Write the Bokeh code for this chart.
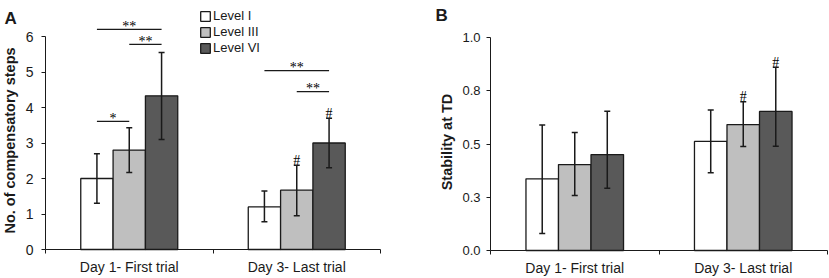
import math
from bokeh.plotting import figure
from bokeh.models import (ColumnDataSource, FixedTicker, Legend, LegendItem, Label,
                          Whisker, TeeHead, Range1d, LinearAxis)
from bokeh.layouts import row
from bokeh.embed import file_html
from bokeh.resources import INLINE
from bokeh.core.properties import value

# ---------------- data ----------------
categories = ["Day 1- First trial", "Day 3- Last trial"]
levels = ["Level I", "Level III", "Level VI"]

# Panel A: No. of compensatory steps  (rows = levels, cols = categories)
steps_mean = [[2.0, 1.2], [2.8, 1.67], [4.33, 3.0]]
steps_lower = [[1.3, 0.78], [2.17, 0.95], [3.1, 2.3]]
steps_upper = [[2.7, 1.65], [3.43, 2.37], [5.55, 3.7]]

# significance brackets in panel A: category, from level, to level, height, text
steps_sig_cat = [0, 0, 0, 1, 1]
steps_sig_from = [0, 0, 1, 0, 1]
steps_sig_to = [1, 2, 2, 2, 2]
steps_sig_y = [3.61, 6.2, 5.78, 5.04, 4.45]
steps_sig_text = ["*", "**", "**", "**", "**"]

# '#' marks (category, level) placed over the upper error bar
steps_hash_cat = [1, 1]
steps_hash_level = [1, 2]

# Panel B: Stability at TD
stab_mean = [[0.337, 0.513], [0.404, 0.592], [0.451, 0.654]]
stab_lower = [[0.08, 0.365], [0.259, 0.489], [0.293, 0.49]]
stab_upper = [[0.59, 0.661], [0.555, 0.699], [0.655, 0.862]]
stab_hash_cat = [1, 1]
stab_hash_level = [1, 2]

steps_ticks = [0, 1, 2, 3, 4, 5, 6]
stab_ticks = [0, 0.25, 0.5, 0.75, 1.0]
stab_tick_labels = ["0.0", "0.3", "0.5", "0.8", "1.0"]

# ---------------- style ----------------
colors = ["#ffffff", "#bfbfbf", "#595959"]
INK = "#1a1a1a"
SANS = "Liberation Sans"
SERIF = "Liberation Serif"
BAR_W = 0.193
OFF = 0.193
H = 278


def xpos(cat, lvl):
    return cat + 0.5 + (lvl - 1) * OFF


class Panel:
    """A figure whose frame fills the canvas; axes sit at fixed data locations."""

    def __init__(self, width, ax_left, ax_right, ax_bottom, px_per_y, ymax, ticks,
                 ytick_size, ytick_standoff):
        self.ax_left, self.ax_bottom = ax_left, ax_bottom
        self.px_x = (ax_right - ax_left) / 2.0
        self.px_y = px_per_y
        xr = Range1d(-ax_left / self.px_x, (width - ax_left) / self.px_x)
        yr = Range1d(-(H - ax_bottom) / px_per_y, ax_bottom / px_per_y)
        p = figure(width=width, height=H, output_backend="svg", toolbar_location=None,
                   x_range=xr, y_range=yr, x_axis_location=None, y_axis_location=None,
                   min_border=0)
        p.outline_line_color = None
        for g in p.grid:
            g.visible = False
        p.background_fill_color = "white"
        p.border_fill_color = "white"

        xa = LinearAxis(fixed_location=0, bounds=(0, 2),
                        ticker=FixedTicker(ticks=[0.5, 1.5], minor_ticks=[0, 1, 2]))
        xa.major_label_overrides = {0.5: categories[0], 1.5: categories[1]}
        xa.major_tick_out = 0
        xa.major_tick_in = 0
        xa.minor_tick_out = 4
        xa.minor_tick_in = 0
        xa.minor_tick_line_color = INK
        xa.axis_line_color = INK
        xa.major_label_text_font = SANS
        xa.major_label_text_font_size = "14px"
        xa.major_label_text_color = INK
        xa.major_label_standoff = 5
        p.add_layout(xa, "below")

        ya = LinearAxis(fixed_location=0, bounds=(0, ymax), ticker=FixedTicker(ticks=ticks))
        ya.axis_line_color = INK
        ya.major_tick_out = 4
        ya.major_tick_in = 0
        ya.major_tick_line_color = INK
        ya.minor_tick_line_color = None
        ya.major_label_text_font = SANS
        ya.major_label_text_font_size = ytick_size
        ya.major_label_text_color = INK
        ya.major_label_standoff = ytick_standoff
        p.add_layout(ya, "left")
        self.p, self.ya = p, ya

    def dx(self, px):
        return (px - self.ax_left) / self.px_x

    def dy(self, py):
        return (self.ax_bottom - py) / self.px_y

    def side_labels(self, letter, title, letter_px, letter_py, title_px, title_py):
        self.p.add_layout(Label(x=self.dx(letter_px), y=self.dy(letter_py), text=letter,
                                text_font=SANS, text_font_size="17px",
                                text_font_style="bold", text_color=INK,
                                text_baseline="alphabetic", text_align="left"))
        self.p.add_layout(Label(x=self.dx(title_px), y=self.dy(title_py), text=title,
                                angle=math.pi / 2, text_font=SANS, text_font_size="14.5px",
                                text_font_style="bold", text_color=INK,
                                text_baseline="middle", text_align="center"))


def draw_bars(p, mean, lower, upper):
    rends = []
    for lvl in range(3):
        src = ColumnDataSource(dict(
            x=[xpos(c, lvl) for c in range(2)],
            top=mean[lvl], lower=lower[lvl], upper=upper[lvl]))
        r = p.vbar(x="x", top="top", bottom=0, width=BAR_W, source=src,
                   fill_color=colors[lvl], line_color=INK, line_width=1.3)
        rends.append(r)
        w = Whisker(source=src, base="x", lower="lower", upper="upper",
                    dimension="height", line_color=INK, line_width=1.5,
                    level="overlay",
                    upper_head=TeeHead(size=6, line_color=INK, line_width=1.5),
                    lower_head=TeeHead(size=6, line_color=INK, line_width=1.5))
        p.add_layout(w)
    return rends


def draw_hash(p, cats, lvls, upper):
    src = ColumnDataSource(dict(
        x=[xpos(c, l) for c, l in zip(cats, lvls)],
        y=[upper[l][c] for c, l in zip(cats, lvls)],
        t=["#"] * len(cats)))
    p.text(x="x", y="y", text="t", source=src, text_font=value(SERIF),
           text_font_size="14px", text_align="center", text_baseline="alphabetic",
           y_offset=-5, text_color="#000000")


# ---------------- panel A ----------------
A = Panel(415, 45, 380, 249, 35.5, 6, steps_ticks, "14px", 8)
pA = A.p
rA = draw_bars(pA, steps_mean, steps_lower, steps_upper)

sig_src = ColumnDataSource(dict(
    x0=[xpos(c, f) for c, f in zip(steps_sig_cat, steps_sig_from)],
    x1=[xpos(c, t) for c, t in zip(steps_sig_cat, steps_sig_to)],
    y=steps_sig_y, t=steps_sig_text))
sig_src.data["xm"] = [(a + b) / 2 for a, b in zip(sig_src.data["x0"], sig_src.data["x1"])]
pA.segment(x0="x0", x1="x1", y0="y", y1="y", source=sig_src, line_color=INK, line_width=1.3)
pA.text(x="xm", y="y", text="t", source=sig_src, text_font=value(SERIF),
        text_font_size="14px", text_align="center", text_baseline="alphabetic",
        y_offset=-3, text_color="#000000")
draw_hash(pA, steps_hash_cat, steps_hash_level, steps_upper)

legend = Legend(items=[LegendItem(label=levels[i], renderers=[rA[i]]) for i in range(3)],
                location=(199, 223), orientation="vertical",
                padding=0, margin=0, spacing=1, glyph_width=12, glyph_height=12,
                label_standoff=2, border_line_alpha=0, background_fill_alpha=0,
                label_text_font=SANS, label_text_font_size="13px", label_text_color=INK)
pA.add_layout(legend)
A.side_labels("A", "No. of compensatory steps", 4, 18, 9.5, 140)

# ---------------- panel B ----------------
B = Panel(414, 75, 412, 250, 212.7, 1, stab_ticks, "13px", 6)
pB = B.p
B.ya.major_label_overrides = dict(zip(stab_ticks, stab_tick_labels))
draw_bars(pB, stab_mean, stab_lower, stab_upper)
draw_hash(pB, stab_hash_cat, stab_hash_level, stab_upper)
B.side_labels("B", "Stability at TD", 20, 15, 31.5, 141.5)

layout = row(pA, pB)
open("out.html", "w").write(file_html(layout, INLINE))
